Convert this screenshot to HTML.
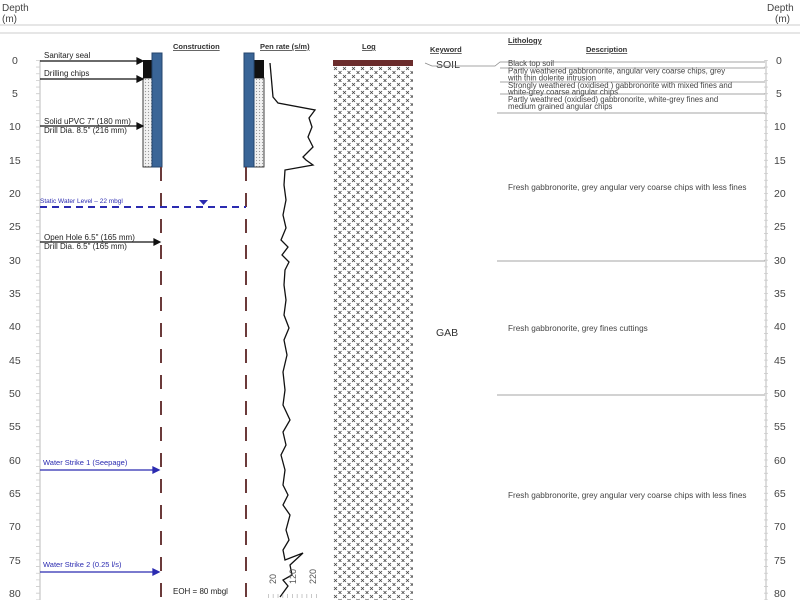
<!DOCTYPE html>
<html><head><meta charset="utf-8"><style>
html,body{margin:0;padding:0;background:#fff;}
svg{display:block;font-family:"Liberation Sans",sans-serif;}
</style></head><body>
<svg width="800" height="600" viewBox="0 0 800 600" xmlns="http://www.w3.org/2000/svg">
<defs>
<pattern id="hx" width="9" height="8" patternUnits="userSpaceOnUse" x="333" y="66">
<g stroke="#444" stroke-width="0.8">
<path d="M1,1 L4,4 M4,1 L1,4"/>
<path d="M5.5,5 L8.5,8 M8.5,5 L5.5,8"/>
</g></pattern>
<pattern id="dots" width="3" height="3" patternUnits="userSpaceOnUse">
<rect width="3" height="3" fill="#f2f2f2"/><circle cx="1.5" cy="1.5" r="0.6" fill="#999"/></pattern>
</defs>
<line x1="0" y1="25" x2="800" y2="25" stroke="#ddd" stroke-width="1.5"/>
<line x1="0" y1="33" x2="800" y2="33" stroke="#e6e6e6" stroke-width="2"/>
<text x="2" y="11" font-size="10" fill="#444">Depth</text>
<text x="2" y="22" font-size="10" fill="#444">(m)</text>
<text x="767" y="11" font-size="10" fill="#444">Depth</text>
<text x="775" y="22" font-size="10" fill="#444">(m)</text>

<line x1="40" y1="60" x2="40" y2="600" stroke="#bbb"/>
<line x1="38" y1="60" x2="38" y2="600" stroke="#ccc" stroke-width="4" stroke-dasharray="0.8 5.86"/>
<line x1="766" y1="60" x2="766" y2="600" stroke="#bbb"/>
<line x1="766" y1="60" x2="766" y2="600" stroke="#ccc" stroke-width="4" stroke-dasharray="0.8 5.86"/>
<g font-size="10.5" fill="#444">
<text x="12" y="64">0</text><text x="12" y="97">5</text>
<text x="9" y="130">10</text><text x="9" y="164">15</text><text x="9" y="197">20</text><text x="9" y="230">25</text><text x="9" y="264">30</text><text x="9" y="297">35</text><text x="9" y="330">40</text><text x="9" y="364">45</text><text x="9" y="397">50</text><text x="9" y="430">55</text><text x="9" y="464">60</text><text x="9" y="497">65</text><text x="9" y="530">70</text><text x="9" y="564">75</text><text x="9" y="597">80</text>
<text x="776" y="64">0</text><text x="776" y="97">5</text>
<text x="774" y="130">10</text><text x="774" y="164">15</text><text x="774" y="197">20</text><text x="774" y="230">25</text><text x="774" y="264">30</text><text x="774" y="297">35</text><text x="774" y="330">40</text><text x="774" y="364">45</text><text x="774" y="397">50</text><text x="774" y="430">55</text><text x="774" y="464">60</text><text x="774" y="497">65</text><text x="774" y="530">70</text><text x="774" y="564">75</text><text x="774" y="597">80</text>
</g>

<g font-size="7.5" font-weight="bold" fill="#333" text-decoration="underline">
<text x="173" y="49">Construction</text>
<text x="260" y="49">Pen rate (s/m)</text>
<text x="362" y="49">Log</text>
<text x="430" y="52">Keyword</text>
<text x="508" y="43">Lithology</text>
<text x="586" y="52">Description</text>
</g>

<rect x="143" y="60" width="9" height="18" fill="#111"/>
<rect x="143" y="78" width="9" height="89" fill="url(#dots)" stroke="#111" stroke-width="0.8"/>
<rect x="152" y="53" width="10" height="114" fill="#3a6597" stroke="#24456d"/>
<line x1="161" y1="167" x2="161" y2="598" stroke="#6b3a3a" stroke-width="2" stroke-dasharray="14 12"/>
<rect x="254" y="60" width="10" height="18" fill="#111"/>
<rect x="254" y="78" width="10" height="89" fill="url(#dots)" stroke="#111" stroke-width="0.8"/>
<rect x="244" y="53" width="10" height="114" fill="#3a6597" stroke="#24456d"/>
<line x1="246" y1="167" x2="246" y2="598" stroke="#6b3a3a" stroke-width="2" stroke-dasharray="14 12"/>

<g stroke="#111" stroke-width="1.2" fill="#111">
<line x1="40" y1="61" x2="140" y2="61"/><path d="M143,61 l-6,-3 v6z"/>
<line x1="40" y1="79" x2="140" y2="79"/><path d="M143,79 l-6,-3 v6z"/>
<line x1="40" y1="126" x2="140" y2="126"/><path d="M143,126 l-6,-3 v6z"/>
<line x1="40" y1="242" x2="156" y2="242"/><path d="M160,242 l-6,-3 v6z"/>
</g>
<g font-size="8" fill="#222">
<text x="44" y="58">Sanitary seal</text>
<text x="44" y="76">Drilling chips</text>
<text x="44" y="124">Solid uPVC 7" (180 mm)</text>
<text x="44" y="133">Drill Dia. 8.5" (216 mm)</text>
<text x="44" y="240">Open Hole 6.5" (165 mm)</text>
<text x="44" y="249">Drill Dia. 6.5" (165 mm)</text>
<text x="173" y="594">EOH = 80 mbgl</text>
</g>
<line x1="40" y1="207" x2="246" y2="207" stroke="#2b2bb0" stroke-width="2" stroke-dasharray="7 5"/>
<path d="M199,200 h9 l-4.5,5z" fill="#2b2bb0"/>
<text x="40" y="203" font-size="6.5" fill="#2b2bb0">Static Water Level – 22 mbgl</text>
<g stroke="#2b2bb0" stroke-width="1.3" fill="#2b2bb0">
<line x1="40" y1="470" x2="154" y2="470"/><path d="M159,470 l-6,-3 v6z"/>
<line x1="40" y1="572" x2="154" y2="572"/><path d="M159,572 l-6,-3 v6z"/>
</g>
<g font-size="7.5" fill="#2b2bb0">
<text x="43" y="465">Water Strike 1 (Seepage)</text>
<text x="43" y="567">Water Strike 2 (0.25 l/s)</text>
</g>

<polyline fill="none" stroke="#111" stroke-width="1.3" points="270,63 273,97 278,103 315,110 309,118 312,127 308,137 313,147 303,157 306,160 313,165 285,170 284,185 286,200 283,215 286,228 281,240 288,247 282,255 289,262 285,270 284,285 286,300 284,315 289,328 284,340 287,355 283,372 285,390 283,405 290,420 283,432 286,445 281,455 285,470 283,485 288,495 283,505 290,515 286,530 289,540 283,550 285,560 303,553 290,565 292,575 283,580 288,586 280,597"/>
<g font-size="9" fill="#555">
<text transform="translate(276,584) rotate(-90)">20</text>
<text transform="translate(296,584) rotate(-90)">120</text>
<text transform="translate(316,584) rotate(-90)">220</text>
</g>
<line x1="268" y1="596" x2="318" y2="596" stroke="#bbb" stroke-width="4" stroke-dasharray="0.8 4"/>

<rect x="333" y="66" width="80" height="534" fill="url(#hx)"/>
<rect x="333" y="60" width="80" height="6" fill="#6b2c2c"/>

<text x="436" y="68" font-size="10.5" fill="#333">SOIL</text>
<text x="436" y="336" font-size="10.5" fill="#333">GAB</text>
<g stroke="#888" stroke-width="0.7" fill="none">
<path d="M425,63 L432,66 L495,66 L500,62 L765,62"/>
<line x1="500" y1="68" x2="765" y2="68"/>
<line x1="500" y1="82" x2="765" y2="82"/>
<line x1="500" y1="94" x2="765" y2="94"/>
<line x1="497" y1="113" x2="765" y2="113"/>
<line x1="497" y1="261" x2="765" y2="261"/>
<line x1="497" y1="395" x2="765" y2="395"/>
</g>
<g font-size="7.8" fill="#444">
<text x="508" y="66">Black top soil</text>
<text x="508" y="73.5">Partly weathered gabbronorite, angular very coarse chips, grey</text>
<text x="508" y="80.5">with thin dolerite intrusion</text>
<text x="508" y="88">Strongly weathered (oxidised ) gabbronorite with mixed fines and</text>
<text x="508" y="94.5">white-grey coarse angular chips</text>
<text x="508" y="102">Partly weathred (oxidised) gabbronorite, white-grey fines and</text>
<text x="508" y="109">medium grained angular chips</text>
</g>
<g font-size="8.2" fill="#444">
<text x="508" y="190">Fresh gabbronorite, grey angular very coarse chips with less fines</text>
<text x="508" y="331">Fresh gabbronorite, grey fines cuttings</text>
<text x="508" y="498">Fresh gabbronorite, grey angular very coarse chips with less fines</text>
</g>
</svg>
</body></html>
